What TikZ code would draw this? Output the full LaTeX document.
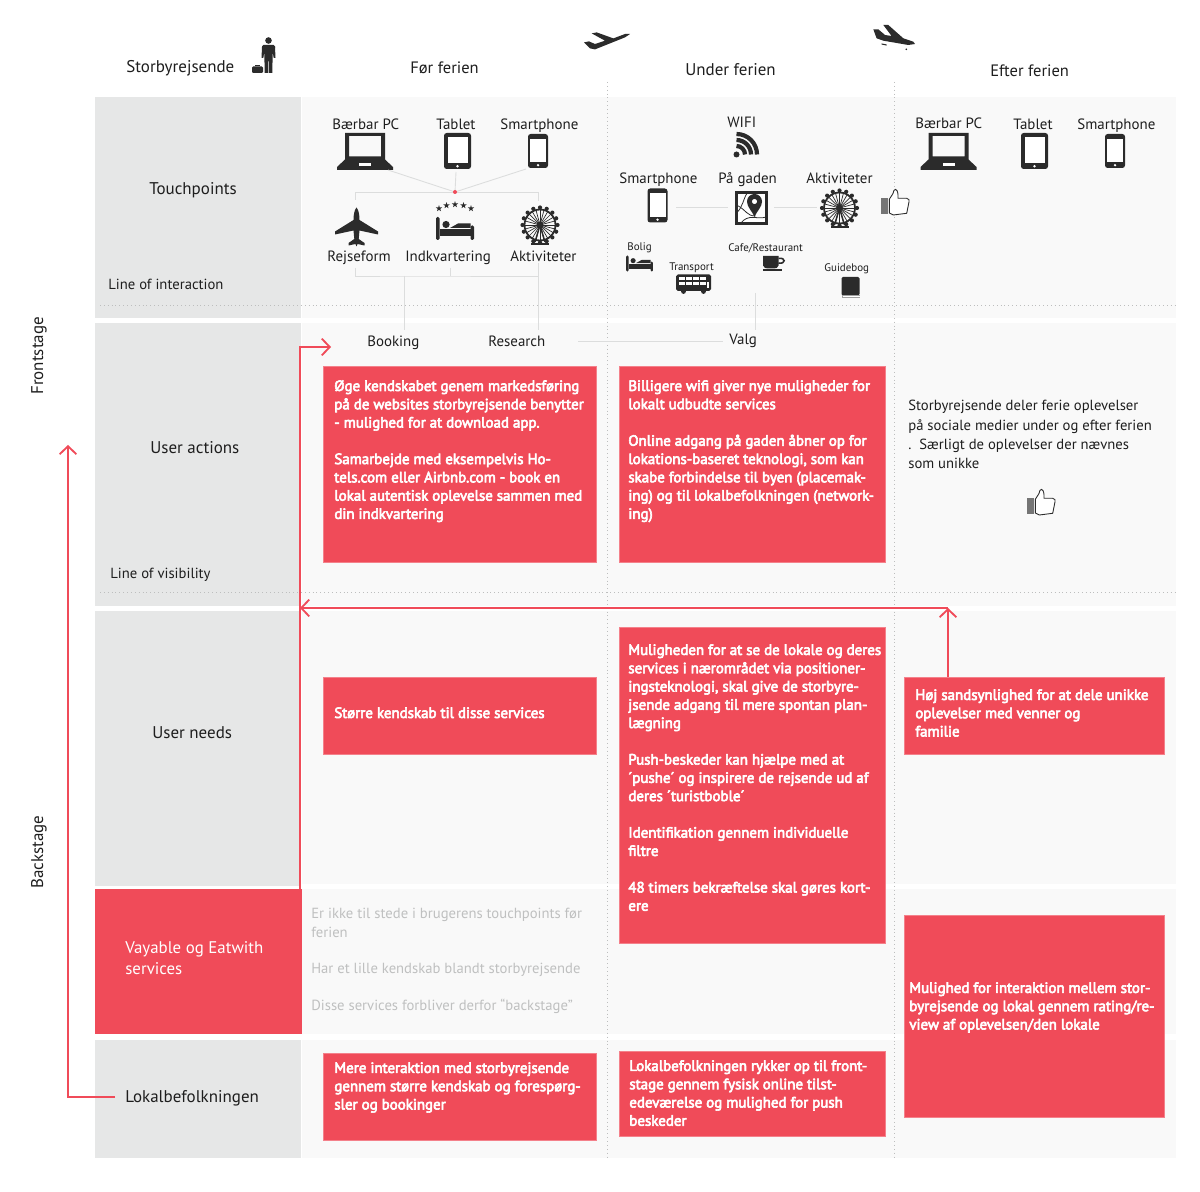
\documentclass[tikz,border=0pt]{standalone}
\usepackage{fontspec}
\setmainfont{PT Sans}
\newfontfamily\boxfont[FakeBold=4]{PT Sans}
\usetikzlibrary{arrows.meta}
\definecolor{ink}{HTML}{1E1E1E}
\definecolor{iconink}{HTML}{2B2B2B}
\definecolor{rowgrey}{HTML}{E6E7E7}
\definecolor{bandgrey}{HTML}{F9F9F9}
\definecolor{accent}{HTML}{F04B59}
\definecolor{linkgrey}{HTML}{DCDDDD}
\definecolor{dotgrey}{HTML}{BDBEBE}
\definecolor{mutedtext}{HTML}{BFC0C0}
\tikzset{
  panel/.style n args={3}{draw=none, fill=#1, anchor=north west, inner sep=0pt, minimum width=#2*0.02cm, minimum height=#3*0.02cm},
  redbox/.style 2 args={draw=accent!70!white, line width=0.3pt, fill=accent, anchor=north west, inner sep=0pt, minimum width=#1*0.02cm, minimum height=#2*0.02cm},
  lbl/.style={anchor=base west, inner sep=0pt, text=ink, font=\fontsize{9.65}{11}\selectfont},
  iconlbl/.style={lbl, font=\fontsize{8.5}{10}\selectfont},
  rowlbl/.style={lbl, font=\fontsize{8.35}{10}\selectfont},
  smalllbl/.style={anchor=base west, inner sep=0pt, text=ink, font=\fontsize{6.25}{8}\selectfont},
  redtext/.style={anchor=north west, inner sep=0pt, align=left, text=white, font=\boxfont\fontsize{8.5}{10.4}\selectfont},
  greytext/.style={anchor=north west, inner sep=0pt, align=left, text=mutedtext, font=\fontsize{8.35}{10.4}\selectfont},
  darktext/.style={anchor=north west, inner sep=0pt, align=left, text=ink, font=\fontsize{8.35}{11}\selectfont},
  link/.style={draw=linkgrey, line width=0.5pt},
  dotline/.style={draw=dotgrey, line width=0.5pt, dash pattern=on 0.5pt off 1.7pt},
  flow/.style={draw=accent, line width=1.05pt},
  flowarrow/.style={flow, -{Straight Barb[length=4.5pt,width=9.5pt,line width=1.05pt]}},
  laptop/.pic={
    \fill[iconink, even odd rule] (-20,-18.5) -- (20,-18.5) -- (20,8) -- (28,15.5) -- (28,18.5) -- (-28,18.5) -- (-28,15.5) -- (-20,8) -- cycle (-16,-15.5) rectangle (16,5);
    \fill[white] (-6,12) rectangle (6,14.5);
  },
  tablet/.pic={
    \fill[iconink, rounded corners=1.5] (-13.5,-18) rectangle (13.5,18);
    \fill[white] (-10,-13.5) rectangle (10,12.5);
    \fill[white] (0,15.2) circle (1.4);
  },
  phone/.pic={
    \fill[iconink, rounded corners=1.5] (-10,-17) rectangle (10,17);
    \fill[white] (-8,-12) rectangle (8,11.5);
    \fill[white] (0,14.2) circle (1.3);
  },
  topplane/.pic={
    \fill[iconink] (0,-19.5) .. controls (2.2,-17) and (3,-12) .. (3,-7) -- (21.5,4.5) -- (21.5,7.5) -- (3,3.5) -- (2.2,12) -- (8,16) -- (8,18.5) -- (1,17) -- (0,19.5) -- (-1,17) -- (-8,18.5) -- (-8,16) -- (-2.2,12) -- (-3,3.5) -- (-21.5,7.5) -- (-21.5,4.5) -- (-3,-7) .. controls (-3,-12) and (-2.2,-17) .. (0,-19.5) -- cycle;
  },
  departplane/.pic={
    \fill[iconink] (-22.7,1.7) -- (-17.7,0.7) -- (-11.7,3.3) -- (-1.7,0) -- (-15,-7.3) -- (-10,-8.3) -- (6.7,-2.3) -- (18.3,-6.7) -- (23.3,-6.7) -- (18.3,-3.3) -- (-11.7,8.7) -- (-16.7,7.7) -- cycle;
  },
  arriveplane/.pic={
    \fill[iconink] (-20,-5.7) -- (-15,-5.7) -- (-8.3,0) -- (-1.7,1) -- (-10,-10) -- (-5,-10) -- (10,3.3) -- (20,6.7) -- (21.7,9) -- (15,10) -- (-10,5.7) -- (-16.7,3.3) -- cycle;
    \draw[iconink, line width=0.6pt] (-11.7,9) -- (-6.7,10);
    \fill[iconink] (13,14.3) circle (0.9);
  },
  starrow/.pic={
    \foreach \sx/\sy in {-16/3.5,-8.5/0.5,0/-0.5,8.5/0.5,16/3.5}{
      \fill[iconink] (\sx,\sy) +(-90:3.4) -- +(54:3.4) -- +(198:3.4) -- +(342:3.4) -- +(126:3.4) -- cycle;
    }
  },
  bed/.pic={
    \fill[iconink, rounded corners=0.8] (-19,-11.5) rectangle (-15.5,11.5);
    \fill[iconink, rounded corners=0.8] (15.5,-3) rectangle (19,11.5);
    \fill[iconink] (-15.5,1) rectangle (15.5,8);
    \fill[iconink] (-9,-4) circle (3.6);
    \fill[iconink] (-5,-0.5) -- (3,-5) -- (15.5,-5) -- (15.5,-0.5) -- cycle;
  },
  ferris/.pic={
    \draw[iconink, line width=1pt] (0,-2) circle (15.5);
    \foreach \a in {0,15,...,345}{
      \draw[iconink, line width=0.4pt] (0,-2) -- ++(\a:15.5);
    }
    \foreach \a in {0,22.5,...,337.5}{
      \fill[iconink] (0,-2) ++(\a:17.5) circle (2.1);
    }
    \fill[iconink] (0,-2) circle (3.4);
    \draw[iconink, line width=0.8pt] (0,-2) -- (-5,15) (0,-2) -- (5,15);
    \fill[iconink] (-9,16) rectangle (9,18.5);
  },
  wifi/.pic={
    \fill[iconink] (-10.5,9.5) circle (3);
    \draw[iconink, line width=2.4pt] (-10.5,9.5) ++(-90:8.5) arc (-90:0:8.5);
    \draw[iconink, line width=2.4pt] (-10.5,9.5) ++(-90:14.5) arc (-90:0:14.5);
    \draw[iconink, line width=2.4pt] (-10.5,9.5) ++(-90:20.5) arc (-90:0:20.5);
  },
  streetmap/.pic={
    \draw[iconink, line width=1.5pt, fill=white] (-15,-15.5) rectangle (15,15.5);
    \draw[iconink, line width=0.45pt] (-15,5) .. controls (-8,-2) and (-9,-8) .. (-4,-15.5);
    \draw[iconink, line width=0.45pt] (-11,15.5) .. controls (-3,5) and (5,12) .. (15,9);
    \draw[iconink, line width=0.45pt] (-15,-3) .. controls (-5,2) and (-5,8) .. (4,8);
    \fill[iconink, even odd rule] (3,9) .. controls (0,2) and (-4.5,-1) .. (-4.5,-6.5) arc (180:360:7.5) .. controls (10.5,-1) and (6,2) .. (3,9) -- cycle (3,-6.5) circle (2.7);
  },
  thumbup/.pic={
    \fill[iconink!65!white] (-14,-3.5) rectangle (-7,12.5);
    \draw[iconink, line width=0.5pt, fill=white] (-5.7,-2.2) -- (-2,-8) .. controls (-1.5,-13) and (2.5,-14.5) .. (3,-6.5) -- (3,-3.2) -- (11.7,-3.2) .. controls (14,-3) and (14.5,-1) .. (14,0.2) -- (11.7,11.8) -- (-1.7,13.5) -- (-5.7,11.5) -- cycle;
  },
  coffee/.pic={
    \fill[iconink] (-11,-7.5) -- (4.5,-7.5) -- (4.5,2) .. controls (4,4.5) and (2,5) .. (0,5) -- (-6,5) .. controls (-8,5) and (-10.5,4.5) .. (-11,2) -- cycle;
    \draw[iconink, line width=0.9pt] (4.5,-5) .. controls (12,-6.5) and (12,1) .. (4.5,-0.5);
    \fill[iconink] (-11,6) rectangle (8,7.5);
  },
  doublebus/.pic={
    \fill[iconink, rounded corners=1] (-17.5,-9.5) rectangle (17.5,7);
    \foreach \wx in {-14.5,-7.5,-0.5,6.5}{
      \fill[white] (\wx,-7) rectangle ++(5.5,3);
      \fill[white] (\wx,-1.5) rectangle ++(5.5,3);
    }
    \fill[white] (13,-1.5) rectangle (15.8,4.5);
    \fill[iconink] (-10,7.5) circle (2.4) (10,7.5) circle (2.4);
  },
  guidebook/.pic={
    \fill[iconink, rounded corners=0.8] (-9,-10.5) rectangle (9,8);
    \fill[iconink!45!white] (-9,8) rectangle (9,10.5);
    \fill[white] (-8,8.6) rectangle (9,9.6);
  },
  traveller/.pic={
    \fill[iconink] (0,-14.5) circle (3.3);
    \fill[iconink, rounded corners=0.8] (-6.5,-10) rectangle (6.5,-6);
    \fill[iconink] (-6.5,-8) -- (-7,3) -- (-5.2,3) -- (-4.2,-3) -- (-3.8,18) -- (-0.5,18) -- (-0.2,4) -- (0.2,4) -- (0.5,18) -- (3.8,18) -- (4.2,-3) -- (5.2,3) -- (7,3) -- (6.5,-8) -- cycle;
  },
  suitcase/.pic={
    \fill[iconink, rounded corners=0.6] (-5.5,-2.5) rectangle (5.5,4);
    \draw[iconink, line width=0.5pt] (-2,-2.5) -- (-2,-4) -- (2,-4) -- (2,-2.5);
  },
}
\begin{document}
\begin{tikzpicture}[x=0.02cm, y=-0.02cm]
    \useasboundingbox (0,0) rectangle (1200,1192);

    \node[panel={bandgrey}{874}{221}] (bandTouch) at (302,97) {};
    \node[panel={bandgrey}{874}{283}] (bandActions) at (302,323) {};
    \node[panel={bandgrey}{874}{273}] (bandNeeds) at (302,611) {};
    \node[panel={bandgrey}{874}{145}] (bandVayable) at (302,889) {};
    \node[panel={bandgrey}{874}{118}] (bandLocal) at (302,1040) {};
    \node[panel={rowgrey}{206}{221}] (rowTouch) at (95,97) {};
    \node[panel={rowgrey}{206}{283}] (rowActions) at (95,323) {};
    \node[panel={rowgrey}{206}{275}] (rowNeeds) at (95,611) {};
    \node[panel={accent}{207}{145}] (rowVayable) at (95,889) {};
    \node[panel={rowgrey}{206}{118}] (rowLocal) at (95,1040) {};

    \coordinate (colOneTop) at (607,82);
    \coordinate (colOneEnd) at (607,1158);
    \coordinate (colTwoTop) at (894,82);
    \coordinate (colTwoEnd) at (894,1158);
    \coordinate (interStart) at (100,305);
    \coordinate (interEnd) at (1176,305);
    \coordinate (visiStart) at (100,592);
    \coordinate (visiEnd) at (1176,592);
    \draw[dotline] (colOneTop) -- (colOneEnd);
    \draw[dotline] (colTwoTop) -- (colTwoEnd);
    \draw[dotline] (interStart) -- (interEnd);
    \draw[dotline] (visiStart) -- (visiEnd);

    \node[redbox={273}{196}] (boxPreActions) at (323,366) {};
    \node[redbox={266}{196}] (boxDuringActions) at (619,366) {};
    \node[redbox={273}{77}] (boxPreNeeds) at (323,677) {};
    \node[redbox={266}{316}] (boxDuringNeeds) at (619,627) {};
    \node[redbox={260}{77}] (boxPostNeeds) at (904,677) {};
    \node[redbox={260}{202}] (boxPostVayable) at (904,915) {};
    \node[redbox={273}{87}] (boxPreLocal) at (323,1053) {};
    \node[redbox={266}{85}] (boxDuringLocal) at (619,1051) {};

    \node[lbl] (headTraveller) at (126,73) {Storbyrejsende};
    \node[lbl, font=\fontsize{9.4}{11}\selectfont] (headBefore) at (410,74) {Før ferien};
    \node[lbl] (headDuring) at (685,76) {Under ferien};
    \node[lbl, font=\fontsize{9.4}{11}\selectfont] (headAfter) at (990,77) {Efter ferien};
    \node[lbl] (rowTouchName) at (149,195) {Touchpoints};
    \node[rowlbl] (lineInteraction) at (108,290) {Line of interaction};
    \node[lbl] (rowActionsName) at (150,454) {User actions};
    \node[rowlbl] (lineVisibility) at (110,579) {Line of visibility};
    \node[lbl] (rowNeedsName) at (152,738) {User needs};
    \node[lbl, text=white, anchor=north west, align=left, font=\fontsize{9.6}{12}\selectfont] (rowVayableName) at (125,941) {Vayable og Eatwith\\services};
    \node[lbl] (rowLocalName) at (125,1102) {Lokalbefolkningen};
    \node[lbl, rotate=90] (sideFront) at (43,395) {Frontstage};
    \node[lbl, rotate=90] (sideBack) at (43,889) {Backstage};

    \node[iconlbl] (preLaptop) at (332,130) {Bærbar PC};
    \node[iconlbl] (preTablet) at (436,130) {Tablet};
    \node[iconlbl] (prePhone) at (500,130) {Smartphone};
    \node[iconlbl] (preFlight) at (327,262) {Rejseform};
    \node[iconlbl] (preStay) at (405,262) {Indkvartering};
    \node[iconlbl] (preActivity) at (510,262) {Aktiviteter};
    \node[iconlbl] (duringWifi) at (727,128) {WIFI};
    \node[iconlbl] (duringPhone) at (619,184) {Smartphone};
    \node[iconlbl] (duringStreet) at (718,184) {På gaden};
    \node[iconlbl] (duringActivity) at (806,184) {Aktiviteter};
    \node[smalllbl] (duringHome) at (627,251) {Bolig};
    \node[smalllbl] (duringBus) at (669,271) {Transport};
    \node[smalllbl] (duringCafe) at (728,252) {Cafe/Restaurant};
    \node[smalllbl] (duringGuide) at (824,272) {Guidebog};
    \node[iconlbl] (postLaptop) at (915,129) {Bærbar PC};
    \node[iconlbl] (postTablet) at (1013,130) {Tablet};
    \node[iconlbl] (postPhone) at (1077,130) {Smartphone};
    \node[iconlbl] (choiceBooking) at (367,347) {Booking};
    \node[iconlbl] (choiceResearch) at (488,347) {Research};
    \node[iconlbl] (choiceValg) at (729,345) {Valg};

    \node[redtext] (textPreActions) at (334,380) {Øge kendskabet genem markedsføring\\på de websites storbyrejsende benytter\\- mulighed for at download app.\\[10.4pt]Samarbejde med eksempelvis Ho-\\tels.com eller Airbnb.com - book en\\lokal autentisk oplevelse sammen med\\din indkvartering};
    \node[redtext] (textDuringActions) at (628,380) {Billigere wifi giver nye muligheder for\\lokalt udbudte services\\[10.4pt]Online adgang på gaden åbner op for\\lokations-baseret teknologi, som kan\\skabe forbindelse til byen (placemak-\\ing) og til lokalbefolkningen (network-\\ing)};
    \node[redtext] (textPreNeeds) at (334,707) {Større kendskab til disse services};
    \node[redtext] (textDuringNeeds) at (628,644) {Muligheden for at se de lokale og deres\\services i nærområdet via positioner-\\ingsteknologi, skal give de storbyre-\\jsende adgang til mere spontan plan-\\lægning\\[10.4pt]Push-beskeder kan hjælpe med at\\´pushe´ og inspirere de rejsende ud af\\deres ´turistboble´\\[10.4pt]Identifikation gennem individuelle\\filtre\\[10.4pt]48 timers bekræftelse skal gøres kort-\\ere};
    \node[redtext] (textPostNeeds) at (915,689) {Høj sandsynlighed for at dele unikke\\oplevelser med venner og\\familie};
    \node[redtext] (textPostVayable) at (909,982) {Mulighed for interaktion mellem stor-\\byrejsende og lokal gennem rating/re-\\view af oplevelsen/den lokale};
    \node[redtext] (textPreLocal) at (334,1062) {Mere interaktion med storbyrejsende\\gennem større kendskab og forespørg-\\sler og bookinger};
    \node[redtext] (textDuringLocal) at (629,1060) {Lokalbefolkningen rykker op til front-\\stage gennem fysisk online tilst-\\edeværelse og mulighed for push\\beskeder};
    \node[greytext] (textVayable) at (311,908) {Er ikke til stede i brugerens touchpoints før\\ferien\\[10.4pt]Har et lille kendskab blandt storbyrejsende\\[10.4pt]Disse services forbliver derfor “backstage”};
    \node[darktext] (textPost) at (908,400) {Storbyrejsende deler ferie oplevelser\\på sociale medier under og efter ferien\\.\ \ Særligt de oplevelser der nævnes\\som unikke};

    \pic at (268.5,55) {traveller};
    \pic at (257.5,69) {suitcase};
    \pic at (606.7,40.7) {departplane};
    \pic at (893.3,35) {arriveplane};
    \pic at (365,151.5) {laptop};
    \pic at (457.5,151) {tablet};
    \pic at (538,151) {phone};
    \pic at (356.5,227) {topplane};
    \pic at (455,205) {starrow};
    \pic at (455,228.5) {bed};
    \pic at (540,227) {ferris};
    \pic at (747,145) {wifi};
    \pic at (657.5,205.5) {phone};
    \pic at (751.5,208) {streetmap};
    \pic at (839.5,210) {ferris};
    \pic at (895,201.5) {thumbup};
    \pic[scale=0.71] at (639.5,263.5) {bed};
    \pic at (693.5,284) {doublebus};
    \pic at (774,263.5) {coffee};
    \pic at (850.5,287.5) {guidebook};
    \pic at (948.5,151.5) {laptop};
    \pic at (1034.5,151) {tablet};
    \pic at (1115,151) {phone};
    \pic at (1041,501.5) {thumbup};

    \coordinate (hub) at (455,192);
    \coordinate (hubWest) at (355,192);
    \coordinate (hubEast) at (538,192);
    \coordinate (laptopFoot) at (388,170);
    \coordinate (tabletFoot) at (456,172);
    \coordinate (phoneFoot) at (526,169);
    \coordinate (flightTop) at (355,200);
    \coordinate (activityTop) at (538,201);
    \coordinate (flightFoot) at (355,268);
    \coordinate (stayFoot) at (450,268);
    \coordinate (activityFoot) at (538,263);
    \coordinate (bookingStub) at (404,276);
    \coordinate (bookingEnd) at (404,330);
    \coordinate (researchEnd) at (538,330);
    \coordinate (valgStub) at (755,293);
    \coordinate (valgEnd) at (755,330);
    \coordinate (valgLinkWest) at (578,341.5);
    \coordinate (valgLinkEast) at (723,341.5);
    \coordinate (phoneLink) at (676,207);
    \coordinate (mapLinkWest) at (728,207);
    \coordinate (mapLinkEast) at (774,207);
    \coordinate (wheelLink) at (817,207);
    \draw[link] (laptopFoot) -- (hub);
    \draw[link] (tabletFoot) -- (hub);
    \draw[link] (phoneFoot) -- (hub);
    \draw[link] (flightTop) |- (hubWest) -- (hubEast) -- (activityTop);
    \draw[link] (flightFoot) |- (bookingStub) -| (activityFoot);
    \draw[link] (stayFoot) -- (stayFoot|-bookingStub);
    \draw[link] (bookingStub) -- (bookingEnd);
    \draw[link] (activityFoot) -- (researchEnd);
    \draw[link] (valgStub) -- (valgEnd);
    \draw[link] (valgLinkWest) -- (valgLinkEast);
    \draw[link] (phoneLink) -- (mapLinkWest);
    \draw[link] (mapLinkEast) -- (wheelLink);
    \fill[accent] (hub) circle (2);

    \coordinate (localStub) at (115,1097);
    \coordinate (localTip) at (68,445);
    \coordinate (vayableStub) at (300,889);
    \coordinate (bookingTip) at (331,347);
    \coordinate (postStub) at (948,677);
    \coordinate (postTip) at (948,608);
    \coordinate (crossTip) at (300,608);
    \draw[flowarrow] (localStub) -| (localTip);
    \draw[flowarrow] (vayableStub) |- (bookingTip);
    \draw[flowarrow] (postStub) -- (postTip);
    \draw[flowarrow] (postTip) -- (crossTip);
\end{tikzpicture}
\end{document}
